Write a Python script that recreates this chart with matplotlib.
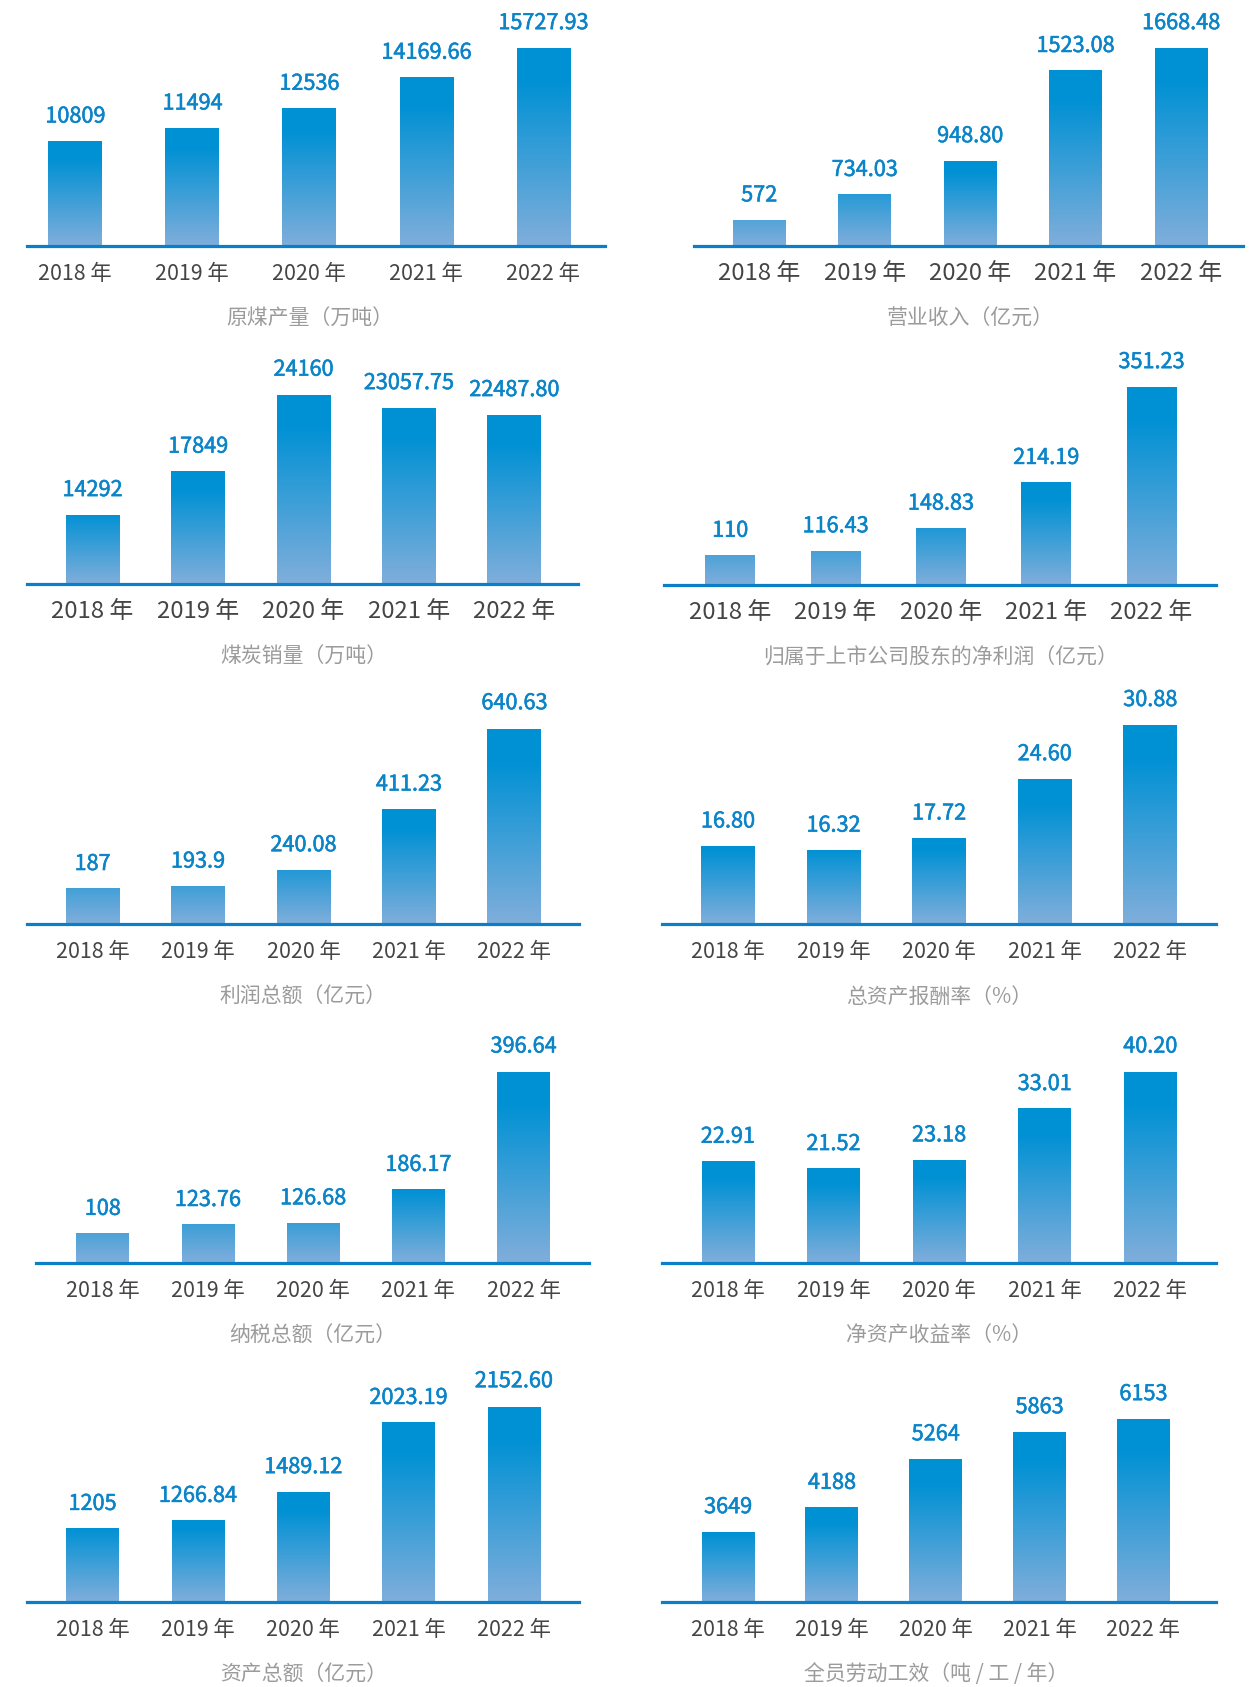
import matplotlib
matplotlib.use("Agg")
import matplotlib.pyplot as plt
import matplotlib.patheffects as pe
import numpy as np

plt.rcParams['font.family'] = ['Noto Sans CJK SC', 'DejaVu Sans']

# ---------------- data ----------------
years = ["2018 年", "2019 年", "2020 年", "2021 年", "2022 年"]

coal_output_labels = ["10809", "11494", "12536", "14169.66", "15727.93"]
revenue_labels = ["572", "734.03", "948.80", "1523.08", "1668.48"]
coal_sales_labels = ["14292", "17849", "24160", "23057.75", "22487.80"]
net_profit_labels = ["110", "116.43", "148.83", "214.19", "351.23"]
total_profit_labels = ["187", "193.9", "240.08", "411.23", "640.63"]
roa_labels = ["16.80", "16.32", "17.72", "24.60", "30.88"]
tax_labels = ["108", "123.76", "126.68", "186.17", "396.64"]
roe_labels = ["22.91", "21.52", "23.18", "33.01", "40.20"]
assets_labels = ["1205", "1266.84", "1489.12", "2023.19", "2152.60"]
productivity_labels = ["3649", "4188", "5264", "5863", "6153"]

titles = ["原煤产量（万吨）", "营业收入（亿元）", "煤炭销量（万吨）",
          "归属于上市公司股东的净利润（亿元）", "利润总额（亿元）", "总资产报酬率（%）",
          "纳税总额（亿元）", "净资产收益率（%）", "资产总额（亿元）", "全员劳动工效（吨 / 工 / 年）"]

series = [coal_output_labels, revenue_labels, coal_sales_labels, net_profit_labels,
          total_profit_labels, roa_labels, tax_labels, roe_labels, assets_labels,
          productivity_labels]

# ---------------- layout (measured in the 1169-wide preview) ----------------
# x_left, x_right, y_axis, y_top, first_center, spacing, bar_w, y_min, year_fs
layout = [
    (25, 562, 229, 45, 70, 108.75, 50, 5300, 15.4),
    (645, 1155, 229, 45, 705.5, 98, 49, 408, 17.2),
    (25, 537, 543, 367, 86, 98, 50, 8640, 17.2),
    (617, 1130, 544, 360, 678.5, 97.9, 46, 68, 17.2),
    (25, 538, 859, 677, 86, 98, 50, 88, 15.4),
    (615, 1130, 859, 674, 676.5, 98.1, 50, 7.8, 15.4),
    (33, 547, 1174, 996, 95.5, 97.75, 49, 56, 15.4),
    (615, 1130, 1174, 996, 676.5, 98.1, 49, 3.5, 15.4),
    (25, 538, 1489, 1307, 86, 97.9, 49, 640, 15.4),
    (615, 1130, 1489, 1319, 676.5, 96.5, 49, 2100, 15.4),
]

W, H = 1258, 1687
S = W / 1169.0
PX2PT = 72.0 / 100.0

deep = np.array([0, 145, 212]) / 255.0
light = np.array([128, 174, 219]) / 255.0
value_color = "#0b84c8"
axis_color = "#0a7fc8"
year_color = "#454545"
title_color = "#9b9b9b"

fig = plt.figure(figsize=(W / 100, H / 100), dpi=100)

for labels, title, lay in zip(series, titles, layout):
    xl, xr, ya, yt, c0, sp, bw, ymin, yfs = lay
    values = [float(s) for s in labels]
    vmax = max(values)
    left = xl * S / W
    width = (xr - xl) * S / W
    bottom = 1 - ya * S / H
    height = (ya - yt) * S / H
    ax = fig.add_axes([left, bottom, width, height])
    ax.set_xlim((xl - c0) / sp, (xr - c0) / sp)
    ax.set_ylim(ymin, vmax)
    ax.set_autoscale_on(False)
    x = np.arange(len(values))
    bars = ax.bar(x, [v - ymin for v in values], width=bw / sp, bottom=ymin,
                  color="none", edgecolor="none", zorder=2)
    n = 200
    for b, v in zip(bars, values):
        frac = (v - ymin) / (vmax - ymin)
        hs = np.linspace(0, frac, n)
        t = np.clip(hs / max(frac, 0.45) * 1.2, 0, 1)
        cols = light[None, :] + t[:, None] * (deep - light)[None, :]
        img = cols[:, None, :]
        ax.imshow(img, extent=[b.get_x(), b.get_x() + b.get_width(), ymin, v],
                  origin="lower", aspect="auto", interpolation="bilinear", zorder=2)
    for xi, v, s in zip(x, values, labels):
        ax.annotate(s, (xi, v), xytext=(0, 23.5 * S * PX2PT),
                    textcoords="offset points", ha="center", va="center",
                    fontsize=15.6, color=value_color,
                    path_effects=[pe.withStroke(linewidth=0.4, foreground=value_color)],
                    annotation_clip=False)
    for xi, yl in zip(x, years):
        ax.annotate(yl, (xi, ymin), xytext=(0, -25.5 * S * PX2PT),
                    textcoords="offset points", ha="center", va="center",
                    fontsize=yfs, color=year_color, annotation_clip=False)
    ax.annotate(title, (2, ymin), xytext=(0, -67 * S * PX2PT),
                textcoords="offset points", ha="center", va="center",
                fontsize=15, color=title_color, fontweight="light",
                annotation_clip=False)
    for side in ["top", "left", "right"]:
        ax.spines[side].set_visible(False)
    ax.spines["bottom"].set_color(axis_color)
    ax.spines["bottom"].set_linewidth(2.3)
    ax.spines["bottom"].set_zorder(3)
    ax.set_xticks([])
    ax.set_yticks([])
    ax.patch.set_alpha(0)

fig.savefig("out.png", dpi=100, facecolor="white")
